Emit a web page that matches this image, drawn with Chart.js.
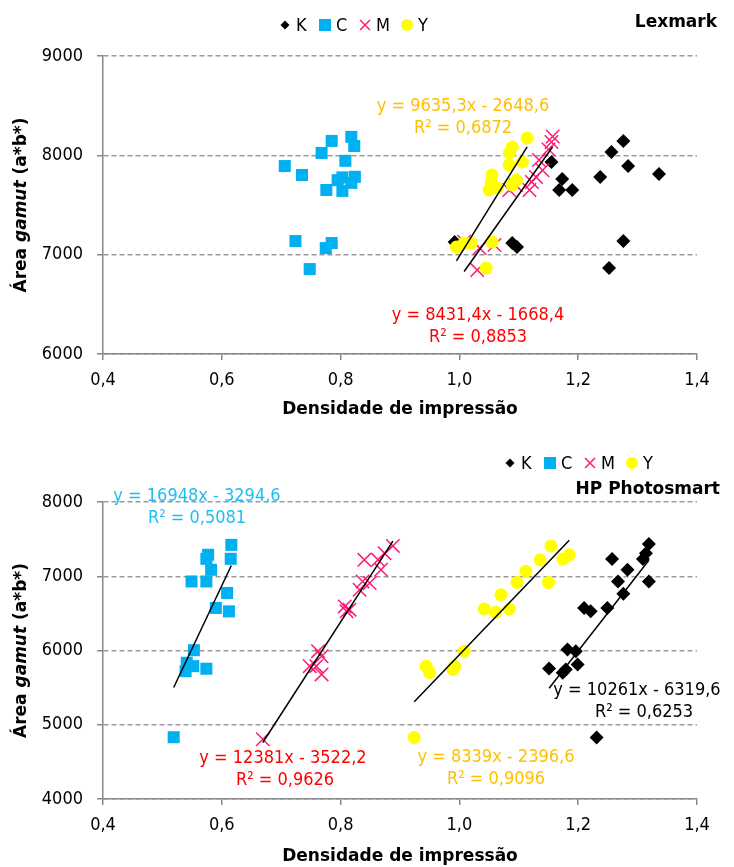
<!DOCTYPE html>
<html>
<head>
<meta charset="utf-8">
<script src="https://cdn.jsdelivr.net/npm/chart.js@4.4.1/dist/chart.umd.min.js"></script>
<style>
    body { margin: 0; background: #fff; }
    canvas { position: absolute; left: 0; }
    #graficoLexmark { top: 0; }
    #graficoHP { top: 434px; }
</style>
</head>
<body>
<canvas id="graficoLexmark" width="734" height="434"></canvas>
<canvas id="graficoHP" width="734" height="433"></canvas>
<script>
// Lexmark
const lexKx = [0.992, 1.089, 1.097, 1.155, 1.173, 1.168, 1.190, 1.237, 1.256, 1.276, 1.284, 1.336, 1.276, 1.252];
const lexKy = [7127, 7117, 7077, 7933, 7761, 7651, 7651, 7782, 8033, 8144, 7892, 7812, 7137, 6865];
const lexCx = [0.706, 0.735, 0.785, 0.768, 0.818, 0.823, 0.808, 0.803, 0.824, 0.818, 0.776, 0.803, 0.795, 0.724, 0.785, 0.775, 0.748];
const lexCy = [7892, 7802, 8145, 8024, 8186, 8094, 7945, 7778, 7784, 7723, 7651, 7642, 7750, 7137, 7117, 7066, 6855];
const lexMx = [1.157, 1.155, 1.150, 1.134, 1.140, 1.129, 1.122, 1.118, 1.084, 1.095, 1.008, 1.034, 1.059, 1.030];
const lexMy = [8190, 8134, 8060, 7953, 7850, 7782, 7731, 7651, 7651, 7700, 7130, 7066, 7097, 6845];
const lexYx = [1.114, 1.089, 1.084, 1.106, 1.084, 1.055, 1.054, 1.096, 1.089, 1.050, 1.064, 0.995, 1.008, 1.020, 1.055, 1.045];
const lexYy = [8174, 8084, 8023, 7933, 7902, 7802, 7731, 7751, 7701, 7651, 7670, 7077, 7117, 7117, 7127, 6865];

// HP Photosmart
const hpKx = [1.319, 1.314, 1.309, 1.257, 1.283, 1.267, 1.319, 1.276, 1.210, 1.221, 1.249, 1.182, 1.196, 1.151, 1.174, 1.199, 1.179, 1.231];
const hpKy = [7436, 7311, 7231, 7231, 7087, 6930, 6930, 6765, 6573, 6527, 6573, 6013, 5991, 5758, 5700, 5812, 5745, 4829];
const hpCx = [0.616, 0.615, 0.577, 0.574, 0.582, 0.549, 0.574, 0.609, 0.590, 0.612, 0.553, 0.541, 0.552, 0.539, 0.574, 0.519];
const hpCy = [7423, 7235, 7289, 7235, 7087, 6930, 6930, 6775, 6573, 6527, 6004, 5835, 5789, 5722, 5755, 4832];
const hpMx = [0.888, 0.874, 0.840, 0.863, 0.868, 0.837, 0.849, 0.832, 0.807, 0.815, 0.810, 0.762, 0.768, 0.748, 0.759, 0.768, 0.669];
const hpMy = [7409, 7311, 7221, 7221, 7087, 6930, 6909, 6819, 6594, 6550, 6527, 5991, 5923, 5789, 5789, 5678, 4805];
const hpYx = [0.944, 0.950, 0.992, 0.989, 1.008, 1.042, 1.061, 1.084, 1.070, 1.097, 1.112, 1.150, 1.136, 1.154, 1.174, 1.185, 0.924];
const hpYy = [5789, 5700, 5789, 5745, 5991, 6560, 6514, 6560, 6752, 6917, 7067, 6917, 7221, 7409, 7231, 7289, 4829];

// linhas de tendência: [inclinação, intercepto, R²]
const eqLexM = [8431.4, -1668.4, 0.8853];
const eqLexY = [9635.3, -2648.6, 0.6872];
const eqHpC = [16948, -3294.6, 0.5081];
const eqHpM = [12381, -3522.2, 0.9626];
const eqHpY = [8339, -2396.6, 0.9096];
const eqHpK = [10261, -6319.6, 0.6253];

const xTicks = [0.4, 0.6, 0.8, 1.0, 1.2, 1.4];
const yTicksLex = [6000, 7000, 8000, 9000];
const yTicksHp = [4000, 5000, 6000, 7000, 8000];

const FONTE = "'DejaVu Sans Condensed', 'DejaVu Sans', sans-serif";
const FONTE_TITULO = "'DejaVu Sans', sans-serif";

const estilos = {
    K: { cor: "#000000", ponto: "rectRot", raio: 7, borda: 0, ordem: 5, legRaio: 4.5 },
    C: { cor: "#00B0F0", ponto: "rect", raio: 8.5, borda: 0, ordem: 4, legRaio: 8.5 },
    M: { cor: "#FF1A75", ponto: "crossRot", raio: 9.5, borda: 1.5, ordem: 3, legRaio: 7 },
    Y: { cor: "#FFFF00", ponto: "circle", raio: 6.5, borda: 0, ordem: 2, legRaio: 6 }
};

function pontos(xs, ys) {
    return xs.map((x, i) => ({ x: x, y: ys[i] }));
}

function tendencia(xs, eq) {
    const min = Math.min(...xs);
    const max = Math.max(...xs);
    return [{ x: min, y: eq[0] * min + eq[1] }, { x: max, y: eq[0] * max + eq[1] }];
}

function virgula(v) {
    return String(v).replace(".", ",");
}

function textoEq(eq) {
    return ["y = " + virgula(eq[0]) + "x - " + virgula(-eq[1]), "R\u00B2 = " + virgula(eq[2])];
}

const anotacoes = {
    id: "anotacoes",
    afterDraw(chart, args, op) {
        const ctx = chart.ctx;
        const area = chart.chartArea;
        ctx.save();

        // legenda
        const desloc = [0, 40, 80, 122];
        ["K", "C", "M", "Y"].forEach((nome, i) => {
            const e = estilos[nome];
            const mx = op.legendaX + desloc[i];
            ctx.fillStyle = e.cor;
            ctx.strokeStyle = e.cor;
            ctx.lineWidth = 1.5;
            Chart.helpers.drawPoint(ctx, { pointStyle: e.ponto, radius: e.legRaio, rotation: 0, borderWidth: e.borda }, mx, op.legendaY);
            ctx.fillStyle = "#000";
            ctx.font = "18px " + FONTE;
            ctx.textAlign = "left";
            ctx.textBaseline = "middle";
            ctx.fillText(nome, mx + 11, op.legendaY + 1);
        });

        // título
        ctx.font = "bold 17px " + FONTE_TITULO;
        ctx.textAlign = "right";
        ctx.fillText(op.titulo, op.tituloX, op.tituloY);

        // equações
        ctx.font = "18px " + FONTE;
        ctx.textAlign = "center";
        op.eqs.forEach(q => {
            const linhas = textoEq(q.eq);
            ctx.fillStyle = q.cor;
            ctx.fillText(linhas[0], q.x1, q.y);
            ctx.fillText(linhas[1], q.x2, q.y + 22);
        });

        // título eixo x
        ctx.fillStyle = "#000";
        ctx.font = "bold 17px " + FONTE_TITULO;
        ctx.fillText("Densidade de impressão", (area.left + area.right) / 2, op.xTituloY);

        // título eixo y
        const partes = [["Área ", "bold 17px "], ["gamut", "italic bold 17px "], [" (a*b*)", "bold 17px "]];
        let total = 0;
        partes.forEach(p => { ctx.font = p[1] + FONTE_TITULO; total += ctx.measureText(p[0]).width; });
        ctx.translate(22, (area.top + area.bottom) / 2);
        ctx.rotate(-Math.PI / 2);
        ctx.textAlign = "left";
        let px = -total / 2;
        partes.forEach(p => {
            ctx.font = p[1] + FONTE_TITULO;
            ctx.fillText(p[0], px, 0);
            px += ctx.measureText(p[0]).width;
        });
        ctx.restore();
    }
};

function criarGrafico(idCanvas, series, tendencias, yTicks, conf) {
    const datasets = [];
    tendencias.forEach(t => {
        datasets.push({
            data: tendencia(t.xs, t.eq),
            showLine: true,
            borderColor: "#000",
            borderWidth: 1.5,
            pointRadius: 0,
            order: 1
        });
    });
    series.forEach(s => {
        const e = estilos[s.nome];
        datasets.push({
            label: s.nome,
            data: pontos(s.xs, s.ys),
            pointStyle: e.ponto,
            pointRadius: e.raio,
            pointHoverRadius: e.raio,
            backgroundColor: e.cor,
            borderColor: e.cor,
            pointBorderWidth: e.borda,
            order: e.ordem
        });
    });

    new Chart(document.getElementById(idCanvas), {
        type: "scatter",
        data: { datasets: datasets },
        options: {
            responsive: false,
            animation: false,
            events: [],
            layout: { padding: { top: conf.topo, right: 37, left: 0, bottom: 0 } },
            plugins: {
                legend: { display: false },
                tooltip: { enabled: false },
                anotacoes: conf
            },
            scales: {
                x: {
                    type: "linear",
                    min: xTicks[0],
                    max: xTicks[xTicks.length - 1],
                    afterBuildTicks: s => { s.ticks = xTicks.map(v => ({ value: v })); },
                    ticks: {
                        padding: 10,
                        color: "#000",
                        font: { family: FONTE, size: 18 },
                        callback: v => v.toFixed(1).replace(".", ",")
                    },
                    grid: { drawOnChartArea: false, color: "#888", tickLength: 6, lineWidth: 1.5 },
                    border: { color: "#888", width: 1.5 },
                    afterFit: s => { s.height = conf.alturaX; }
                },
                y: {
                    min: yTicks[0],
                    max: yTicks[yTicks.length - 1],
                    afterBuildTicks: s => { s.ticks = yTicks.map(v => ({ value: v })); },
                    ticks: {
                        padding: 14,
                        color: "#000",
                        font: { family: FONTE, size: 18 },
                        callback: v => String(v)
                    },
                    grid: { color: "#9a9a9a", lineWidth: 1.5, tickLength: 6, tickColor: "#888" },
                    border: { color: "#888", width: 1.5, dash: [5, 3] },
                    afterFit: s => { s.width = 103; }
                }
            }
        },
        plugins: [anotacoes]
    });
}

document.addEventListener("DOMContentLoaded", function () {

    criarGrafico("graficoLexmark",
        [
            { nome: "K", xs: lexKx, ys: lexKy },
            { nome: "C", xs: lexCx, ys: lexCy },
            { nome: "M", xs: lexMx, ys: lexMy },
            { nome: "Y", xs: lexYx, ys: lexYy }
        ],
        [
            { xs: lexYx, eq: eqLexY },
            { xs: lexMx, eq: eqLexM }
        ],
        yTicksLex,
        {
            topo: 56, alturaX: 80,
            legendaX: 285, legendaY: 25,
            titulo: "Lexmark", tituloX: 717, tituloY: 23,
            xTituloY: 410,
            eqs: [
                { eq: eqLexY, cor: "#FFC000", x1: 463, x2: 463, y: 106 },
                { eq: eqLexM, cor: "#FF0000", x1: 478, x2: 478, y: 315 }
            ]
        }
    );

    criarGrafico("graficoHP",
        [
            { nome: "K", xs: hpKx, ys: hpKy },
            { nome: "C", xs: hpCx, ys: hpCy },
            { nome: "M", xs: hpMx, ys: hpMy },
            { nome: "Y", xs: hpYx, ys: hpYy }
        ],
        [
            { xs: hpCx, eq: eqHpC },
            { xs: hpMx, eq: eqHpM },
            { xs: hpYx, eq: eqHpY },
            { xs: hpKx, eq: eqHpK }
        ],
        yTicksHp,
        {
            topo: 68, alturaX: 68,
            legendaX: 510, legendaY: 29,
            titulo: "HP Photosmart", tituloX: 720, tituloY: 56,
            xTituloY: 423,
            eqs: [
                { eq: eqHpC, cor: "#1EBEF0", x1: 197, x2: 197, y: 62 },
                { eq: eqHpM, cor: "#FF0000", x1: 283, x2: 285, y: 324 },
                { eq: eqHpY, cor: "#FFC000", x1: 496, x2: 496, y: 323 },
                { eq: eqHpK, cor: "#000000", x1: 637, x2: 644, y: 256 }
            ]
        }
    );

});
</script>
</body>
</html>
